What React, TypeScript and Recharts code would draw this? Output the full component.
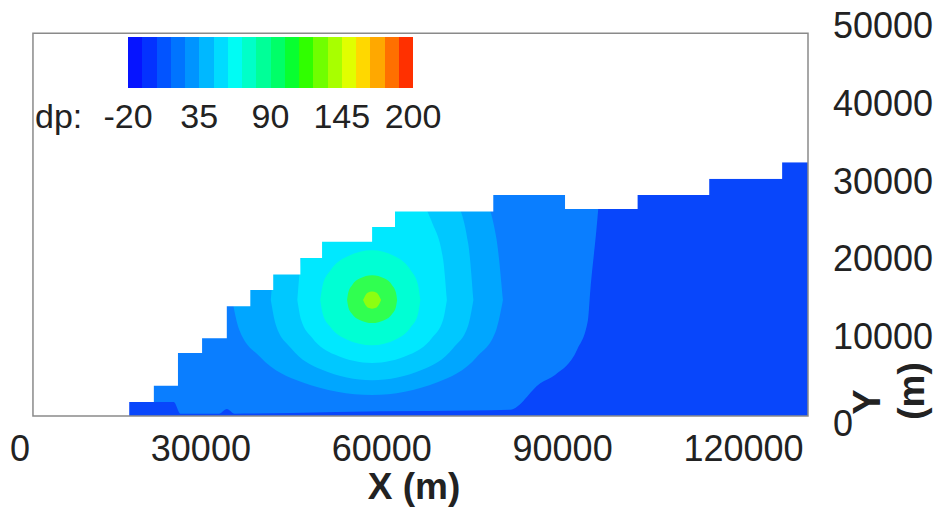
import React from "react";
import { ComposedChart, Area, XAxis, YAxis, ReferenceArea } from "recharts";

const X_TICKS = [0, 30000, 60000, 90000, 120000];
const Y_TICKS = [0, 10000, 20000, 30000, 40000, 50000];

const CBAR_COLORS = [
  "#0614ff", "#0432ff", "#0254ff", "#0074ff", "#0094ff",
  "#00b8ff", "#00dcff", "#00fcf4", "#00ffc8", "#00ff98",
  "#00ff68", "#08ff30", "#30ff00", "#70ff00", "#a8ff00",
  "#e0ff00", "#ffd800", "#ffa800", "#ff7000", "#ff3000",
];
const CBAR_LABELS = ["-20", "35", "90", "145", "200"];

// model top: step start x and height
const TOP_X = [0, 18100, 22200, 26200, 30200, 34300, 38200, 42000, 46500, 50100, 58400, 62200, 78500, 90400, 102400, 114300, 126400, 130700];
const TOP_Y = [0, 1800, 3900, 8100, 10000, 14100, 16200, 18200, 20300, 22400, 24300, 26300, 28400, 26600, 28400, 30500, 32600, 32600];

const BASE_COLOR = "#0846fb";

// contour bands, outermost first: [x, low, high]
const BAND_1 = [
  [18100, 1800, 40000], [25500, 1800, 40000], [26600, 300, 40000], [33000, 300, 40000],
  [34300, 900, 40000], [35600, 300, 40000], [45000, 400, 40000], [60000, 600, 40000],
  [75000, 700, 40000], [81300, 800, 40000], [86300, 4200, 40000], [88800, 5300, 40000],
  [92400, 8500, 40000], [94200, 12300, 40000], [94600, 16200, 40000], [95600, 23900, 40000],
  [95900, 26500, 40000],
];
const BAND_2 = [
  [35200, 14900, 14900], [36360, 11090, 22900], [39840, 7580, 30300], [46800, 4330, 37200],
  [58400, 2700, 40600], [69250, 4330, 37200], [75760, 7580, 30300], [79000, 11090, 22900],
  [80100, 14900, 14900],
];
const BAND_3 = [
  [41600, 14900, 14900], [42440, 11690, 22080], [44960, 8720, 28700], [50000, 5980, 34800],
  [58400, 4600, 37900], [66800, 5980, 34800], [71840, 8720, 28700], [74360, 11690, 22080],
  [75200, 14900, 14900],
];
const BAND_4 = [
  [46000, 14900, 14900], [46620, 12370, 20110], [48480, 10040, 24920], [52200, 7890, 29360],
  [58400, 6800, 31600], [64600, 7890, 29360], [68320, 10040, 24920], [70180, 12370, 20110],
  [70800, 14900, 14900],
];
const BAND_5 = [
  [49800, 14900, 14900], [50230, 13090, 16900], [51520, 11420, 18740], [54100, 9880, 20440],
  [58400, 9100, 21300], [62400, 9880, 20440], [64800, 11420, 18740], [66000, 13090, 16900],
  [66400, 14900, 14900],
];
const BAND_6 = [
  [54250, 14900, 14900], [54460, 13980, 15900], [55080, 13120, 16820], [56330, 12340, 17670],
  [58400, 11940, 18100], [60480, 12340, 17670], [61720, 13120, 16820], [62340, 13980, 15900],
  [62550, 14900, 14900],
];
const BAND_7 = [
  [56900, 14900, 14900], [57650, 13950, 15850], [58400, 13800, 16000], [59150, 13950, 15850],
  [59900, 14900, 14900],
];
const BANDS = [BAND_1, BAND_2, BAND_3, BAND_4, BAND_5, BAND_6, BAND_7];
const BAND_COLORS = ["#0a7eff", "#00a6ff", "#00c8ff", "#00e8ff", "#00ffd4", "#30ff50", "#8cff10"];

const FONT = "'Liberation Sans', Arial, Helvetica, sans-serif";

const topData = TOP_X.map((x, i) => ({ x, top: TOP_Y[i], mask: [TOP_Y[i], 50000] }));
const bandData = BANDS.map((b) => b.map(([x, lo, hi]) => ({ x, v: [lo, hi] })));

const XTick = ({ x, y, payload }: any) => (
  <text x={x} y={y + 45} textAnchor="middle" fontSize={36} fill="#222" fontFamily={FONT}>
    {payload.value}
  </text>
);

const YTick = ({ x, y, payload }: any) => (
  // the zero label sits a little low in the original
  <text x={x + 25} y={y + (payload.value === 0 ? 20 : 11)} textAnchor="start" fontSize={36} fill="#222" fontFamily={FONT}>
    {payload.value}
  </text>
);

const YLabel = () => (
  <g fontFamily={FONT} fontWeight="bold" fill="#222">
    <text x={867} y={402} transform="rotate(-90 867 402)" textAnchor="middle" dominantBaseline="central" fontSize={38}>
      Y
    </text>
    <text x={911} y={391} transform="rotate(-90 911 391)" textAnchor="middle" dominantBaseline="central" fontSize={37}>
      (m)
    </text>
  </g>
);

function ColorBar() {
  const left = 128;
  const width = 285;
  return (
    <div style={{ position: "absolute", left: 0, top: 0, fontFamily: FONT, color: "#222" }}>
      <div style={{ position: "absolute", left, top: 37, width, height: 51, display: "flex" }}>
        {CBAR_COLORS.map((c, i) => (
          <div key={i} style={{ flex: 1, background: c }} />
        ))}
      </div>
      <div style={{ position: "absolute", left: 35, top: 96, fontSize: 34, lineHeight: "40px" }}>dp:</div>
      {CBAR_LABELS.map((l, i) => (
        <div
          key={l}
          style={{
            position: "absolute",
            left: left + (i * width) / (CBAR_LABELS.length - 1) - 50,
            width: 100,
            textAlign: "center",
            top: 96,
            fontSize: 34,
            lineHeight: "40px",
          }}
        >
          {l}
        </div>
      ))}
    </div>
  );
}

export default function App() {
  return (
    <div style={{ position: "absolute", left: 0, top: 0, width: 944, height: 508, background: "#fff" }}>
      <ComposedChart width={944} height={508} margin={{ top: 27, left: 20, right: 0, bottom: 0 }}>
        <XAxis
          type="number"
          dataKey="x"
          domain={[0, 130700]}
          ticks={X_TICKS}
          interval={0}
          axisLine={false}
          tickLine={false}
          tickSize={0}
          tickMargin={0}
          height={92}
          tick={<XTick />}
          label={{ value: "X (m)", position: "insideBottom", offset: 9, fontSize: 37, fontWeight: "bold", fill: "#222", fontFamily: FONT }}
        />
        <YAxis
          type="number"
          orientation="right"
          domain={[0, 50000]}
          ticks={Y_TICKS}
          interval={0}
          axisLine={false}
          tickLine={false}
          tickSize={0}
          tickMargin={0}
          width={136}
          allowDataOverflow
          tick={<YTick />}
          label={<YLabel />}
        />
        <Area
          data={topData}
          dataKey="top"
          type="stepAfter"
          fill={BASE_COLOR}
          fillOpacity={1}
          stroke="none"
          dot={false}
          activeDot={false}
          isAnimationActive={false}
        />
        {bandData.map((d, i) => (
          <Area
            key={i}
            data={d}
            dataKey="v"
            type="monotone"
            fill={BAND_COLORS[i]}
            fillOpacity={1}
            stroke="none"
            dot={false}
            activeDot={false}
            isAnimationActive={false}
          />
        ))}
        <Area
          data={topData}
          dataKey="mask"
          type="stepAfter"
          fill="#ffffff"
          fillOpacity={1}
          stroke="none"
          dot={false}
          activeDot={false}
          isAnimationActive={false}
        />
        <ReferenceArea x1={2150} x2={130700} y1={0} y2={49200} fill="none" stroke="#8a8a8a" strokeWidth={1.5} ifOverflow="visible" />
      </ComposedChart>
      <ColorBar />
    </div>
  );
}
